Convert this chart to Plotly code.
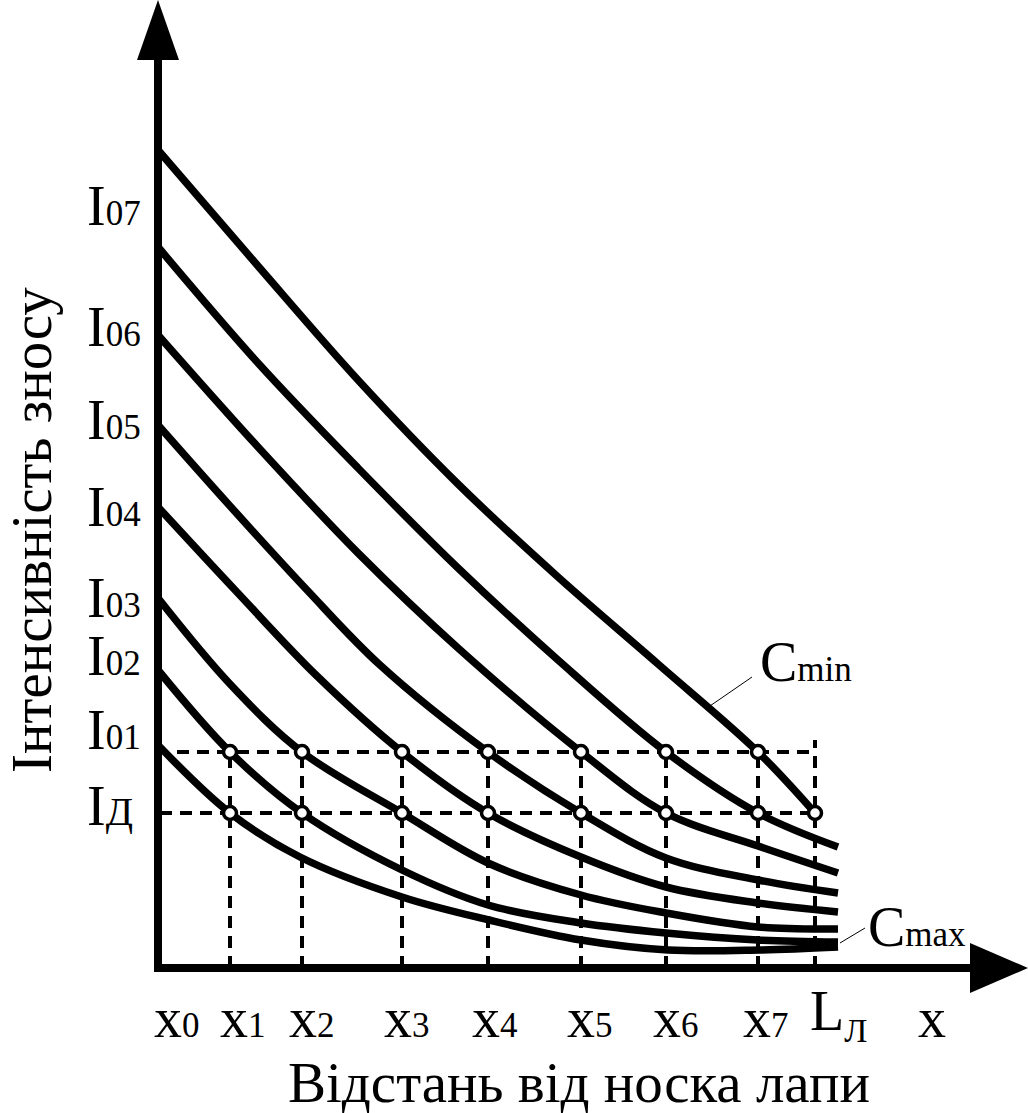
import plotly.graph_objects as go

# положення позначок на осі x (x0..x7, Lл) та рівні I01, Iд
x_ticks = [0, 72, 144, 244, 330, 423, 508, 600, 657]
x_names = ["0", "1", "2", "3", "4", "5", "6", "7"]
I01 = 216
I_D = 155

# криві інтенсивності зносу, знизу (Cmax) догори (Cmin)
c1_x = [0, 72, 142, 244, 331, 423, 510, 602, 680]
c1_y = [223, 155, 111, 71, 48, 28, 18, 18, 21]
c2_x = [0, 72, 144, 244, 330, 423, 508, 600, 680]
c2_y = [298, 216, 155, 98, 63, 45, 35, 28, 26]
c3_x = [0, 72, 144, 244, 330, 423, 508, 600, 680]
c3_y = [370, 284, 216, 155, 105, 73, 55, 41, 39]
c4_x = [0, 77, 159, 244, 330, 423, 508, 600, 680]
c4_y = [461, 378, 292, 216, 155, 111, 81, 65, 56]
c5_x = [0, 72, 149, 222, 330, 423, 508, 600, 680]
c5_y = [543, 462, 378, 303, 216, 155, 110, 88, 75]
c6_x = [0, 100, 200, 300, 423, 508, 600, 680]
c6_y = [633, 521, 415, 320, 216, 155, 122, 95]
c7_x = [0, 100, 200, 300, 400, 508, 600, 680]
c7_y = [721, 605, 500, 400, 308, 216, 155, 121]
cmin_x = [0, 100, 200, 300, 400, 500, 600, 657]
cmin_y = [818, 702, 588, 484, 391, 304, 216, 155]

# підписи на осі y
y_labels = ["07", "06", "05", "04", "03", "02", "01", "Д"]
y_label_pos = [762, 641, 548, 461, 370, 312, 238, 162]
x_label_pos = [19, 85, 154, 249, 337, 432, 518, 608]

FONT = "Liberation Serif"
SUB = "<span style='font-size:35px'>%s</span>"

fig = go.Figure()

curves = [(c1_x, c1_y), (c2_x, c2_y), (c3_x, c3_y), (c4_x, c4_y),
          (c5_x, c5_y), (c6_x, c6_y), (c7_x, c7_y), (cmin_x, cmin_y)]
for cx, cy in curves:
    fig.add_trace(go.Scatter(x=cx, y=cy, mode="lines",
                             line=dict(color="black", width=7.5, shape="spline", smoothing=1.0),
                             hoverinfo="skip"))

dash = dict(color="black", width=4, dash="12px,8px")
# горизонтальні пунктири
fig.add_trace(go.Scatter(x=[19, x_ticks[-1]], y=[I01, I01], mode="lines", line=dash))
fig.add_trace(go.Scatter(x=[2, x_ticks[-1]], y=[I_D, I_D], mode="lines", line=dash))
# вертикальні пунктири
for xv in x_ticks[1:-1]:
    fig.add_trace(go.Scatter(x=[xv, xv], y=[0, I01], mode="lines", line=dash))
fig.add_trace(go.Scatter(x=[x_ticks[-1], x_ticks[-1]], y=[0, I01 + 12], mode="lines", line=dash))

# точки перетину
mk = dict(symbol="circle", size=13, color="white", line=dict(color="black", width=3.5))
fig.add_trace(go.Scatter(x=x_ticks[1:-1], y=[I01] * 7, mode="markers", marker=mk))
fig.add_trace(go.Scatter(x=x_ticks[1:], y=[I_D] * 8, mode="markers", marker=mk))

# осі зі стрілками
shapes = [
    dict(type="line", x0=0, y0=-4, x1=0, y1=915, line=dict(color="black", width=8)),
    dict(type="line", x0=-4, y0=0, x1=815, y1=0, line=dict(color="black", width=8)),
    dict(type="path", path="M -21 908 L 0 968 L 21 908 Z", fillcolor="black", line=dict(width=0)),
    dict(type="path", path="M 812 25 L 870 0 L 812 -25 Z", fillcolor="black", line=dict(width=0)),
    dict(type="line", x0=549, y0=260, x1=594, y1=291, line=dict(color="black", width=1)),
    dict(type="line", x0=682, y0=25, x1=707, y1=40, line=dict(color="black", width=1)),
]

ann = []
for lab, yp in zip(y_labels, y_label_pos):
    sub = SUB % lab if lab != "Д" else "<span style='font-size:40px'>Д</span>"
    ann.append(dict(x=-73, y=yp, text="I" + sub, xanchor="left", yanchor="middle", size=56))
for lab, xp in zip(x_names, x_label_pos):
    ann.append(dict(x=xp, y=-50, text="x" + SUB % lab, xanchor="center", yanchor="middle", size=56))
ann.append(dict(x=680, y=-46, text="L<sub><span style='font-size:34px'>Л</span></sub>",
                xanchor="center", yanchor="middle", size=56))
ann.append(dict(x=774, y=-50, text="x", xanchor="center", yanchor="middle", size=56))
ann.append(dict(x=648, y=306, text="C" + SUB % "min", xanchor="center", yanchor="middle", size=56))
ann.append(dict(x=759, y=41, text="C" + SUB % "max", xanchor="center", yanchor="middle", size=56))
ann.append(dict(x=421, y=-114, text="Відстань від носка лапи", xanchor="center",
                yanchor="middle", size=57))
ann.append(dict(x=-127, y=438, text="Інтенсивність зносу", textangle=-90,
                xanchor="center", yanchor="middle", size=57))
for a in ann:
    a.update(xref="x", yref="y", showarrow=False,
             font=dict(family=FONT, size=a.pop("size"), color="black"))

fig.update_layout(
    width=1028, height=1113,
    margin=dict(l=0, r=0, t=0, b=0),
    paper_bgcolor="white", plot_bgcolor="white",
    showlegend=False,
    xaxis=dict(range=[-158, 870], visible=False, fixedrange=True),
    yaxis=dict(range=[-145, 968], visible=False, fixedrange=True),
    shapes=shapes, annotations=ann,
    font=dict(family=FONT, color="black"),
)

fig.write_html("out.html", post_script="document.body.style.margin='0';",
               config={"displayModeBar": False})
